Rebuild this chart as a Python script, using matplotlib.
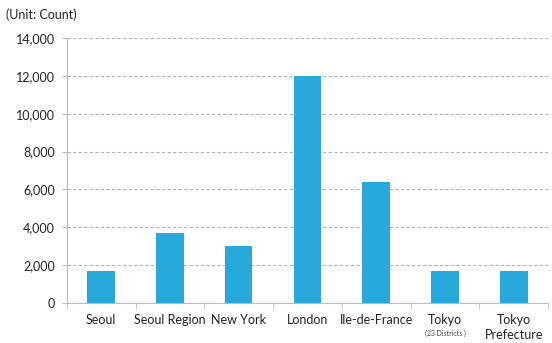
import matplotlib.pyplot as plt
import numpy as np

cities = ["Seoul", "Seoul Region", "New York", "London", "Ile-de-France",
          "Tokyo", "Tokyo\nPrefecture"]
counts = [1700, 3700, 3000, 12000, 6400, 1700, 1700]
y_ticks = [0, 2000, 4000, 6000, 8000, 10000, 12000, 14000]

plt.rcParams['font.family'] = ['Lato', 'DejaVu Sans']

fig = plt.figure(figsize=(5.52, 3.43), dpi=100)
ax = fig.add_axes([0.121, 0.117, 0.872, 0.772])

x = np.arange(len(cities))
ax.bar(x, counts, width=0.4, color='#27A9DB', zorder=3)

ax.set_xlim(-0.5, len(cities) - 0.5)
ax.set_ylim(0, 14000)
ax.set_yticks(y_ticks)
ax.set_yticklabels([f"{v:,}" for v in y_ticks], fontsize=9, color='#222222')
ax.yaxis.grid(True, linestyle=(0, (3, 2)), color='#b0b0b0', linewidth=0.8, zorder=0)

ax.set_xticks(x)
ax.set_xticklabels(cities, fontsize=9, color='#222222', linespacing=1.3)
ax.tick_params(axis='x', length=0, pad=8)
ax.tick_params(axis='y', length=3.5, color='#bbbbbb', pad=5)

# boundary ticks between categories
ax.set_xticks(np.arange(-0.5, len(cities), 1), minor=True)
ax.tick_params(axis='x', which='minor', length=4, color='#bbbbbb')

# small note under Tokyo
ax.text(5, -0.1, "(23 Districts )", transform=ax.get_xaxis_transform(),
        ha='center', va='top', fontsize=5, color='#444444')

for side in ['top', 'right']:
    ax.spines[side].set_visible(False)
ax.spines['left'].set_color('#bbbbbb')
ax.spines['bottom'].set_color('#bbbbbb')

fig.text(0.011, 0.975, "(Unit: Count)", ha='left', va='top', fontsize=9, color='#222222')

fig.savefig('out.png', dpi=100)
